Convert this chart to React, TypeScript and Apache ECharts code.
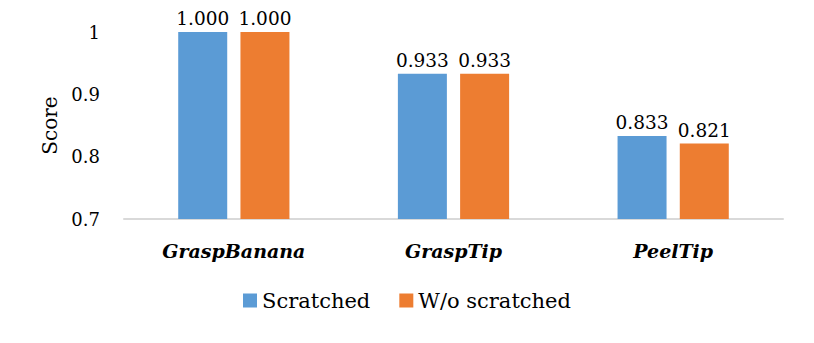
import React, { useEffect, useRef } from "react";
import * as echarts from "echarts";

const categories = ["GraspBanana", "GraspTip", "PeelTip"];
const scratched = [1.0, 0.933, 0.833];
const woScratched = [1.0, 0.933, 0.821];
const seriesNames = ["Scratched", "W/o scratched"];
const yTicks = { min: 0.7, max: 1.0, interval: 0.1 };

const FONT = "DejaVu Serif";

export default function App() {
  const ref = useRef<HTMLDivElement>(null);
  useEffect(() => {
    if (!ref.current) return;
    const chart = echarts.init(ref.current, null, { renderer: "svg" });
    const label = {
      show: true,
      position: "top",
      distance: 4,
      fontFamily: FONT,
      fontSize: 18.5,
      color: "#000",
      formatter: (p: any) => Number(p.value).toFixed(3),
    };
    chart.setOption({
      animation: false,
      backgroundColor: "#fff",
      textStyle: { fontFamily: FONT },
      grid: { left: 124, right: 31, top: 32, bottom: 124, containLabel: false },
      legend: {
        bottom: 27,
        left: "center",
        itemWidth: 14,
        itemHeight: 14,
        itemGap: 29,
        icon: "rect",
        textStyle: { fontFamily: FONT, fontSize: 21, color: "#000" },
        data: seriesNames,
      },
      xAxis: {
        type: "category",
        data: categories,
        axisLine: { lineStyle: { color: "#d9d9d9", width: 2 } },
        axisTick: { show: false },
        axisLabel: {
          fontFamily: FONT,
          fontSize: 19,
          fontWeight: "bold",
          fontStyle: "italic",
          color: "#000",
          margin: 22,
        },
      },
      yAxis: {
        type: "value",
        min: yTicks.min,
        max: yTicks.max,
        interval: yTicks.interval,
        name: "Score",
        nameLocation: "middle",
        nameGap: 62,
        nameRotate: 90,
        nameTextStyle: { fontFamily: FONT, fontSize: 20, color: "#000" },
        splitLine: { show: false },
        axisLine: { show: false },
        axisTick: { show: false },
        axisLabel: {
          fontFamily: FONT,
          fontSize: 18,
          color: "#000",
          margin: 24,
          formatter: (v: number) => (Math.abs(v - 1) < 1e-9 ? "1" : v.toFixed(1)),
        },
      },
      series: [
        {
          name: seriesNames[0],
          type: "bar",
          data: scratched,
          barWidth: 49,
          barGap: "27%",
          itemStyle: { color: "#5b9bd5" },
          label,
        },
        {
          name: seriesNames[1],
          type: "bar",
          data: woScratched,
          barWidth: 49,
          barGap: "27%",
          itemStyle: { color: "#ed7d31" },
          label,
        },
      ],
    });
    return () => chart.dispose();
  }, []);
  return (
    <div
      ref={ref}
      style={{ position: "absolute", left: 0, top: 0, width: 814, height: 343 }}
    />
  );
}
